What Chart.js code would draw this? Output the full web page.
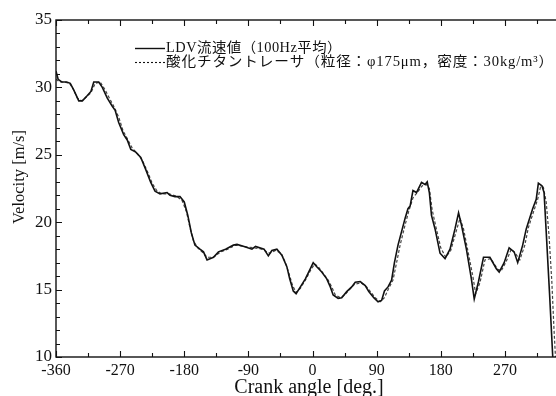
<!DOCTYPE html>
<html>
<head>
<meta charset="utf-8">
<script src="https://cdn.jsdelivr.net/npm/chart.js@4"></script>
<style>
  html, body { margin: 0; padding: 0; background: #fff; overflow: hidden; }
  #wrap { width: 600px; height: 396px; }
</style>
</head>
<body>
<div id="wrap"><canvas id="chart" width="600" height="396"></canvas></div>
<script>
// ── Data ─────────────────────────────────────────────────────────
const seriesNames = ['LDV流速値（100Hz平均）', '酸化チタントレーサ（粒径：φ175μm，密度：30kg/m³）'];
const axisTitles  = { x: 'Crank angle [deg.]', y: 'Velocity [m/s]' };

// LDV (solid)
const ldvAngle = [-360,-357,-352,-345,-340,-335,-328,-323,-316,-311,-307,-300,-295,-288,-281,-277,-272,-265,-260,-255,
  -248,-241,-234,-227,-221,-214,-204,-200,-193,-186,-180,-175,-170,-165,-158,-153,-148,-139,-132,-122,
  -111,-106,-96,-85,-80,-68,-62,-57,-50,-43,-36,-32,-27,-23,-17,-10,-3,1,6,13,
  20,25,29,36,41,48,55,60,67,74,79,86,92,97,101,106,111,115,120,125,
  130,134,137,141,146,153,158,161,164,167,172,179,186,193,200,205,209,216,223,227,
  233,240,249,258,262,269,276,283,288,295,300,309,314,317,322,325,328,333,337,339];
const ldvVel = [31.2,30.6,30.4,30.4,30.3,29.8,29.0,29.0,29.4,29.7,30.4,30.4,30.0,29.2,28.6,28.3,27.4,26.5,26.1,25.4,
  25.2,24.8,23.9,22.95,22.3,22.1,22.2,22.0,21.9,21.9,21.5,20.5,19.2,18.3,18.0,17.8,17.2,17.4,17.8,18.0,
  18.3,18.35,18.2,18.0,18.2,18.0,17.5,17.9,18.0,17.55,16.7,15.8,14.9,14.7,15.2,15.8,16.55,17.0,16.7,16.3,
  15.8,15.2,14.6,14.35,14.4,14.85,15.2,15.55,15.6,15.3,14.85,14.4,14.1,14.2,14.9,15.2,15.7,17.0,18.3,19.3,
  20.3,21.0,21.2,22.35,22.2,22.95,22.8,23.0,22.2,20.5,19.5,17.7,17.3,18.0,19.5,20.7,19.8,18.0,15.8,14.3,
  15.6,17.4,17.4,16.55,16.3,17.0,18.1,17.8,17.0,18.3,19.5,21.0,21.7,22.9,22.7,22.2,19.3,14.4,10.2,8.0];

// TiO2 tracer (dashed)
const tracerAngle = [-360,-355,-348,-341,-336,-330,-324,-317,-311,-305,-298,-292,-285,-278,-272,-266,-260,-253,-246,-239,
  -232,-225,-218,-211,-201,-190,-183,-177,-172,-167,-161,-155,-148,-139,-129,-119,-108,-96,-83,-71,
  -60,-52,-44,-38,-33,-28,-23,-17,-10,-2,3,8,15,22,27,32,39,45,52,59,
  68,76,82,88,95,101,107,113,118,123,129,135,141,147,154,160,164,168,173,180,
  187,194,201,207,212,218,225,229,235,242,250,260,265,272,279,286,291,298,303,311,
  316,320,324,328,332,336,339,341,342];
const tracerVel = [30.6,30.4,30.4,30.3,29.9,29.2,29.0,29.3,29.6,30.3,30.4,29.9,29.2,28.5,27.8,26.8,26.2,25.5,25.1,24.6,
  23.8,22.9,22.3,22.1,22.1,21.9,21.6,20.8,19.6,18.6,18.1,17.8,17.4,17.4,17.8,18.0,18.3,18.2,18.1,18.0,
  17.7,17.9,17.7,17.0,16.2,15.3,14.8,15.1,15.7,16.5,16.9,16.7,16.2,15.7,15.2,14.6,14.4,14.6,15.0,15.4,
  15.5,15.2,14.8,14.4,14.1,14.4,15.1,15.7,17.0,18.3,19.6,20.8,21.8,22.2,22.7,22.8,22.5,20.9,19.7,18.1,
  17.4,17.9,19.2,20.3,19.5,17.9,16.0,14.7,15.5,17.2,17.3,16.5,16.4,17.1,18.0,17.6,17.2,18.3,19.6,20.9,
  21.7,22.6,22.6,21.5,19.0,15.5,12.0,10.0,8.0];

const xTickLabels = [-360, -270, -180, -90, 0, 90, 180, 270, 360];
const yTickLabels = [10, 15, 20, 25, 30, 35];

const serif = '"Liberation Serif", "Times New Roman", serif';
const ink = '#111';

// ── Frame, inward ticks, axis titles and legend ───────────────────
const decor = {
  id: 'decor',
  afterDatasetsDraw(chart) {
    const { ctx, chartArea: a, scales: { x, y } } = chart;
    ctx.save();
    ctx.strokeStyle = ink;
    ctx.lineWidth = 1.4;
    ctx.strokeRect(a.left, a.top, a.right - a.left, a.bottom - a.top);

    ctx.lineWidth = 1.1;
    ctx.beginPath();
    for (let d = -360; d <= 360; d += 45) {
      const px = Math.round(x.getPixelForValue(d)) + 0.5;
      const len = d % 90 === 0 ? 6 : 4;
      ctx.moveTo(px, a.bottom); ctx.lineTo(px, a.bottom - len);
      ctx.moveTo(px, a.top);    ctx.lineTo(px, a.top + len);
    }
    for (let v = 10; v <= 35; v++) {
      const py = Math.round(y.getPixelForValue(v)) + 0.5;
      const len = v % 5 === 0 ? 6 : 4;
      ctx.moveTo(a.left, py);  ctx.lineTo(a.left + len, py);
      ctx.moveTo(a.right, py); ctx.lineTo(a.right - len, py);
    }
    ctx.stroke();

    // axis titles
    ctx.fillStyle = ink;
    ctx.font = '20px ' + serif;
    ctx.textAlign = 'center';
    ctx.textBaseline = 'alphabetic';
    ctx.fillText(axisTitles.x, 309, 393);
    ctx.save();
    ctx.translate(24, 177);
    ctx.rotate(-Math.PI / 2);
    ctx.font = '16.5px ' + serif;
    ctx.fillText(axisTitles.y, 0, 0);
    ctx.restore();

    // legend: stretch each row to the width it has in the figure
    const rows = [
      { y: 48, dash: [], width: 176 },
      { y: 62, dash: [2, 2], width: 388 }
    ];
    ctx.font = '14px ' + serif + ', "Noto Sans CJK JP"';
    ctx.textAlign = 'left';
    ctx.textBaseline = 'middle';
    rows.forEach((r, i) => {
      ctx.beginPath();
      ctx.setLineDash(r.dash);
      ctx.lineWidth = i === 0 ? 1.4 : 1.1;
      ctx.moveTo(135, r.y + 0.5); ctx.lineTo(165, r.y + 0.5);
      ctx.stroke();
      ctx.setLineDash([]);
      const text = seriesNames[i];
      ctx.letterSpacing = '0px';
      const w0 = ctx.measureText(text).width;
      const ls = Math.max(0, (r.width - w0) / [...text].length) * 0.6;
      ctx.letterSpacing = ls.toFixed(2) + 'px';
      const w1 = ctx.measureText(text).width;
      ctx.save();
      ctx.translate(166, r.y);
      ctx.scale(r.width / w1, 1);
      ctx.fillText(text, 0, 0);
      ctx.restore();
    });
    ctx.restore();
  }
};

new Chart(document.getElementById('chart').getContext('2d'), {
  type: 'line',
  data: {
    datasets: [{
      label: seriesNames[0],
      data: ldvAngle.map((a, i) => ({ x: a, y: ldvVel[i] })),
      borderColor: ink,
      borderWidth: 1.6,
      pointRadius: 0,
      tension: 0
    }, {
      label: seriesNames[1],
      data: tracerAngle.map((a, i) => ({ x: a, y: tracerVel[i] })),
      borderColor: '#444',
      borderWidth: 1.2,
      borderDash: [3, 2],
      pointRadius: 0,
      tension: 0
    }]
  },
  options: {
    responsive: false,
    animation: false,
    devicePixelRatio: 1,
    layout: { padding: { left: 0, top: 20, right: 31, bottom: 0 } },
    plugins: { legend: { display: false }, tooltip: { enabled: false } },
    scales: {
      x: {
        type: 'linear', min: -360, max: 360,
        afterFit: s => { s.height = 39; },
        afterBuildTicks: s => { s.ticks = xTickLabels.map(v => ({ value: v })); },
        grid: { display: false, drawTicks: false },
        border: { display: false },
        ticks: { font: { family: serif, size: 16 }, color: ink, padding: 4, maxRotation: 0, autoSkip: false }
      },
      y: {
        min: 10, max: 35,
        afterFit: s => { s.width = 56; },
        afterBuildTicks: s => { s.ticks = yTickLabels.map(v => ({ value: v })); },
        grid: { display: false, drawTicks: false },
        border: { display: false },
        ticks: { font: { family: serif, size: 17 }, color: ink, padding: 4 }
      }
    }
  },
  plugins: [decor]
});
</script>
</body>
</html>
